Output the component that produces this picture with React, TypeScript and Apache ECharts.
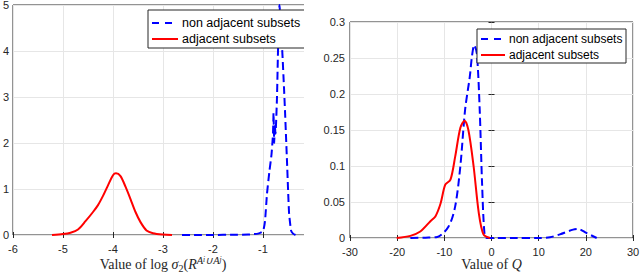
import React, { useEffect, useRef } from "react";
import * as echarts from "echarts";

// Left panel: density of log sigma_2
const leftNonAdjacent: [number, number][] = [
  [-2.62, 0], [-2.3, 0], [-2.0, 0.002], [-1.6, 0.005], [-1.3, 0.01], [-1.1, 0.03],
  [-1.0, 0.08], [-0.96, 0.3], [-0.92, 0.9], [-0.87, 1.4], [-0.83, 1.75], [-0.8, 2.2],
  [-0.79, 2.65], [-0.775, 2.0], [-0.765, 2.4], [-0.75, 2.2], [-0.72, 3.0], [-0.7, 4.0],
  [-0.67, 5.0], [-0.64, 4.5], [-0.61, 3.9], [-0.58, 3.2], [-0.56, 2.7], [-0.52, 1.6],
  [-0.48, 0.5], [-0.44, 0.1], [-0.4, 0.03], [-0.35, 0],
];
const leftAdjacent: [number, number][] = [
  [-5.22, 0], [-5.0, 0.02], [-4.85, 0.05], [-4.7, 0.12], [-4.55, 0.3], [-4.4, 0.5],
  [-4.3, 0.65], [-4.2, 0.85], [-4.1, 1.08], [-4.0, 1.3], [-3.94, 1.34], [-3.85, 1.28],
  [-3.75, 1.05], [-3.65, 0.78], [-3.55, 0.5], [-3.45, 0.28], [-3.33, 0.1], [-3.2, 0.04],
  [-3.0, 0.01], [-2.82, 0],
];

// Right panel: density of Q
const rightNonAdjacent: [number, number][] = [
  [-17.2, 0], [-14, 0.0005], [-11.5, 0.0014], [-9.1, 0.016], [-7.7, 0.044], [-6.6, 0.1],
  [-5.6, 0.178], [-4.6, 0.224], [-4.15, 0.252], [-3.66, 0.268], [-3.1, 0.256],
  [-2.5, 0.178], [-2.0, 0.076], [-1.5, 0.007], [-1.0, 0], [5, 0], [10, 0], [12.4, 0.001],
  [14.5, 0.005], [17.3, 0.0116], [18.4, 0.0125], [20.1, 0.007], [22.3, 0],
];
const rightAdjacent: [number, number][] = [
  [-20.1, 0], [-17.2, 0.003], [-15.1, 0.009], [-13.0, 0.023], [-11.9, 0.03],
  [-10.8, 0.048], [-9.8, 0.074], [-8.7, 0.081], [-7.7, 0.113], [-6.6, 0.153],
  [-5.7, 0.163], [-4.9, 0.15], [-3.8, 0.1], [-2.7, 0.035], [-1.7, 0.005], [-0.3, 0],
];

const leftX = { min: -6, max: 0, interval: 1 };
const leftY = { min: 0, max: 5, interval: 1 };
const rightX = { min: -30, max: 30, interval: 10 };
const rightY = { min: 0, max: 0.3, interval: 0.05 };

const NON = "non adjacent subsets";
const ADJ = "adjacent subsets";
const legendNames = [NON, ADJ];

const INK = "#262626";
const GRIDC = "#e6e6e6";
const SANS = "Liberation Sans";
const SERIF = "Liberation Serif";
const BLUE = "#0000ff";
const RED = "#ff0000";

function mainX(idx: number, r: typeof leftX, name: string, gap: number, rich: any) {
  return {
    type: "value", gridIndex: idx, position: "bottom", ...r,
    axisLine: { show: false },
    axisTick: { show: true, inside: true, length: 3, lineStyle: { color: INK } },
    axisLabel: { margin: 8, color: INK, fontFamily: SANS, fontSize: 11 },
    splitLine: { show: true, lineStyle: { color: GRIDC, width: 1 } },
    name, nameLocation: "middle", nameGap: gap, nameMoveOverlap: false,
    nameTextStyle: { rich },
  };
}
function topX(idx: number, r: typeof leftX) {
  return {
    type: "value", gridIndex: idx, position: "top", ...r,
    axisLine: { show: false },
    axisTick: { show: true, inside: true, length: 3, lineStyle: { color: INK } },
    axisLabel: { show: false }, splitLine: { show: false },
  };
}
function mainY(idx: number, r: typeof leftY, margin: number) {
  return {
    type: "value", gridIndex: idx, position: "left", ...r,
    axisLine: { show: false },
    axisTick: { show: true, inside: true, length: 3, lineStyle: { color: INK } },
    axisLabel: { margin, color: INK, fontFamily: SANS, fontSize: 11 },
    splitLine: { show: true, lineStyle: { color: GRIDC, width: 1 } },
  };
}
function rightY2(idx: number, r: typeof leftY) {
  return {
    type: "value", gridIndex: idx, position: "right", ...r,
    axisLine: { show: false },
    axisTick: { show: true, inside: true, length: 3, lineStyle: { color: INK } },
    axisLabel: { show: false }, splitLine: { show: false },
  };
}

const baseRich = {
  t: { fontFamily: SERIF, fontSize: 14, color: INK, lineHeight: 18 },
  i: { fontFamily: SERIF, fontSize: 14, fontStyle: "italic", color: INK, lineHeight: 18 },
  s: { fontFamily: SERIF, fontSize: 10, color: INK, verticalAlign: "bottom", lineHeight: 12 },
  p: { fontFamily: SERIF, fontSize: 10.5, fontStyle: "italic", color: INK, verticalAlign: "top", lineHeight: 12 },
  pp: { fontFamily: SERIF, fontSize: 7.5, fontStyle: "italic", color: INK, verticalAlign: "top", lineHeight: 16 },
};

function legendGraphic(x: number, y: number, w: number, h: number, row1: number, row2: number, lineLen: number, fontSize: number) {
  return {
    type: "group", z: 50,
    children: [
      { type: "rect", shape: { x, y, width: w, height: h }, style: { fill: "#ffffff", stroke: INK, lineWidth: 1 }, z: 50 },
      { type: "line", shape: { x1: x + 4, y1: row1, x2: x + 4 + lineLen, y2: row1 }, style: { stroke: BLUE, lineWidth: 2, lineDash: [7, 6] }, z: 51 },
      { type: "text", x: x + lineLen + 8, y: row1, style: { text: legendNames[0], fill: "#000000", fontFamily: SANS, fontSize, verticalAlign: "middle", align: "left" }, z: 51 },
      { type: "line", shape: { x1: x + 4, y1: row2, x2: x + 4 + lineLen, y2: row2 }, style: { stroke: RED, lineWidth: 2 }, z: 51 },
      { type: "text", x: x + lineLen + 8, y: row2, style: { text: legendNames[1], fill: "#000000", fontFamily: SANS, fontSize, verticalAlign: "middle", align: "left" }, z: 51 },
    ],
  };
}

export default function App() {
  const ref = useRef<HTMLDivElement>(null);
  useEffect(() => {
    if (!ref.current) return;
    const chart = echarts.init(ref.current, undefined, { renderer: "svg" });
    const blue = { color: BLUE, width: 2, type: [8, 4] as any };
    const red = { color: RED, width: 2, type: "solid" as any };
    chart.setOption({
      animation: false,
      backgroundColor: "#ffffff",
      grid: [
        { left: 13, top: 5, width: 300, height: 230, show: true, borderColor: INK, borderWidth: 1, backgroundColor: "transparent", containLabel: false, outerBoundsMode: "none" },
        { left: 350, top: 22, width: 283, height: 216, show: true, borderColor: INK, borderWidth: 1, backgroundColor: "transparent", containLabel: false, outerBoundsMode: "none" },
      ],
      xAxis: [
        mainX(0, leftX, "{t|Value of log }{i|σ}{s|2}{t|(}{i|R}{p|A}{pp|i}{p|∪A}{pp|j}{t|)}", 20, baseRich),
        topX(0, leftX),
        mainX(1, rightX, "{t|Value of }{i|Q}", 17, baseRich),
        topX(1, rightX),
      ],
      yAxis: [
        mainY(0, leftY, 4),
        rightY2(0, leftY),
        mainY(1, rightY, 5),
        rightY2(1, rightY),
      ],
      series: [
        { type: "line", name: NON, xAxisIndex: 0, yAxisIndex: 0, data: leftNonAdjacent, showSymbol: false, symbol: "none", smooth: 0.15, lineStyle: blue, itemStyle: { color: BLUE }, z: 3 },
        { type: "line", name: ADJ, xAxisIndex: 0, yAxisIndex: 0, data: leftAdjacent, showSymbol: false, symbol: "none", smooth: 0.3, lineStyle: red, itemStyle: { color: RED }, z: 3 },
        { type: "line", name: NON, xAxisIndex: 2, yAxisIndex: 2, data: rightNonAdjacent, showSymbol: false, symbol: "none", smooth: 0.3, lineStyle: blue, itemStyle: { color: BLUE }, z: 3 },
        { type: "line", name: ADJ, xAxisIndex: 2, yAxisIndex: 2, data: rightAdjacent, showSymbol: false, symbol: "none", smooth: 0.3, lineStyle: red, itemStyle: { color: RED }, z: 3 },
      ],
      graphic: [
        legendGraphic(148, 10, 170, 38, 23, 39, 26, 12.5),
        legendGraphic(477, 29, 149, 34, 39, 55, 24, 12),
        { type: "rect", shape: { x: 304, y: 0, width: 16, height: 274 }, style: { fill: "#ffffff" }, z: 100, silent: true },
      ],
    });
    return () => chart.dispose();
  }, []);
  return <div ref={ref} style={{ position: "fixed", left: 0, top: 0, width: 640, height: 274 }} />;
}
